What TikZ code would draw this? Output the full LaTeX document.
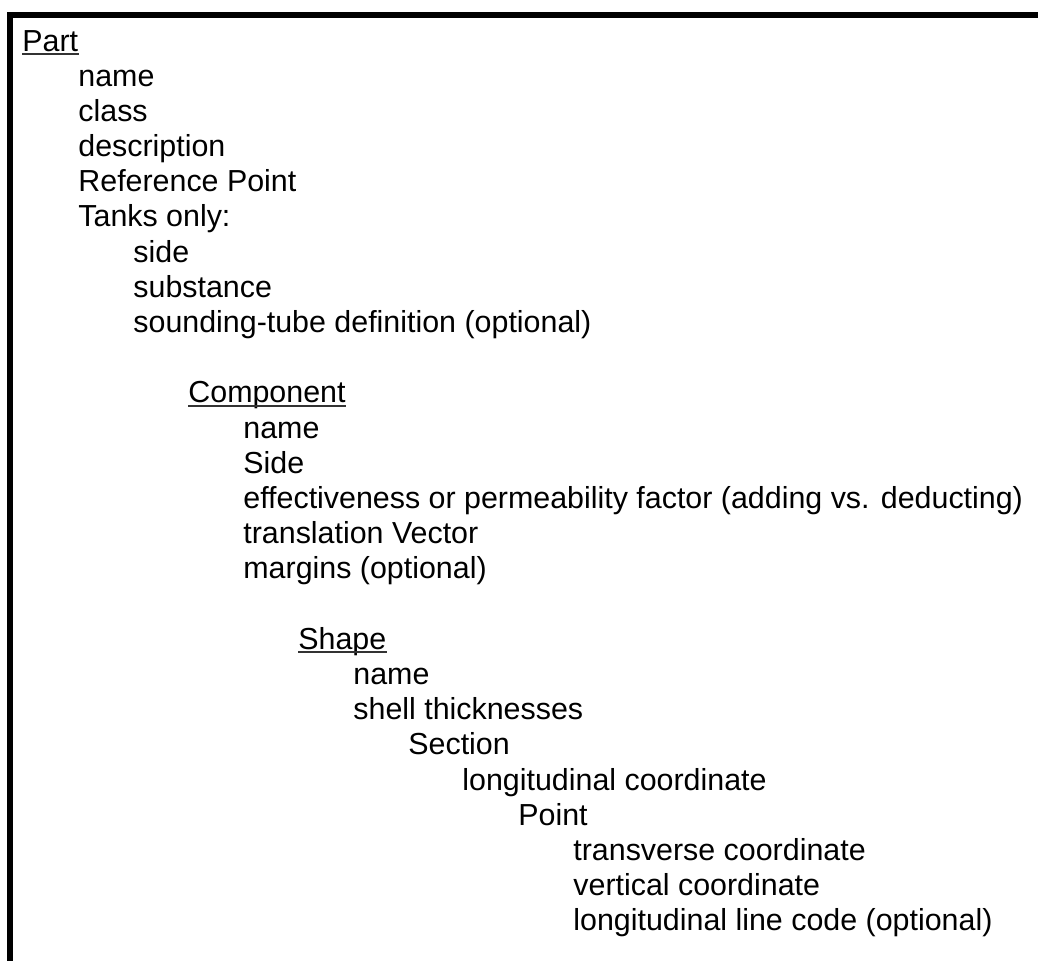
\documentclass[tikz,border=0pt]{standalone}
\usepackage{fontspec}
\setmainfont{Liberation Sans}
\tikzset{
	item/.style={anchor=base west, inner sep=0pt, font=\fontsize{15.2}{18}\selectfont},
	uline/.style={line width=0.9pt, black!80},
}
\begin{document}
\begin{tikzpicture}[x=0.5pt, y=-0.5pt]
		\path[use as bounding box, clip] (0,0) rectangle (1038,960);
		\draw[line width=3pt] (10,980) -- (10,15) -- (1060,15);
		% Part
		\node[item] (part) at (22,51) {Part};
		\node[item] (partname) at (78,86) {name};
		\node[item] (partclass) at (78,121.2) {class};
		\node[item] (partdesc) at (78,156.4) {description};
		\node[item] (partref) at (78,191.6) {Reference Point};
		\node[item] (tanks) at (78,226.8) {Tanks only:};
		\node[item] (tankside) at (133,262) {side};
		\node[item] (tanksubst) at (133,297.2) {substance};
		\node[item] (tanktube) at (133,332.4) {sounding-tube definition (optional)};
		% Component
		\node[item] (comp) at (188,402.8) {Component};
		\node[item] (compname) at (243,438) {name};
		\node[item] (compside) at (243,473.2) {Side};
		\node[item] (compfactor) at (243,508.4) {effectiveness or permeability factor (adding vs. deducting)};
		\node[item] (compvec) at (243,543.6) {translation Vector};
		\node[item] (compmarg) at (243,578.8) {margins (optional)};
		% Shape
		\node[item] (shape) at (298,649.2) {Shape};
		\node[item] (shapename) at (353,684.4) {name};
		\node[item] (shapeshell) at (353,719.6) {shell thicknesses};
		\node[item] (section) at (408,754.8) {Section};
		\node[item] (seclong) at (462,790) {longitudinal coordinate};
		\node[item] (point) at (518,825.2) {Point};
		\node[item] (pttrans) at (573,860.4) {transverse coordinate};
		\node[item] (ptvert) at (573,895.6) {vertical coordinate};
		\node[item] (ptline) at (573,930.8) {longitudinal line code (optional)};
		% underlines
		\draw[uline] ([yshift=-1.4pt]part.base west) -- ([yshift=-1.4pt]part.base east);
		\draw[uline] ([yshift=-1.4pt]comp.base west) -- ([yshift=-1.4pt]comp.base east);
		\draw[uline] ([yshift=-1.4pt]shape.base west) -- ([yshift=-1.4pt]shape.base east);
	\end{tikzpicture}
\end{document}
